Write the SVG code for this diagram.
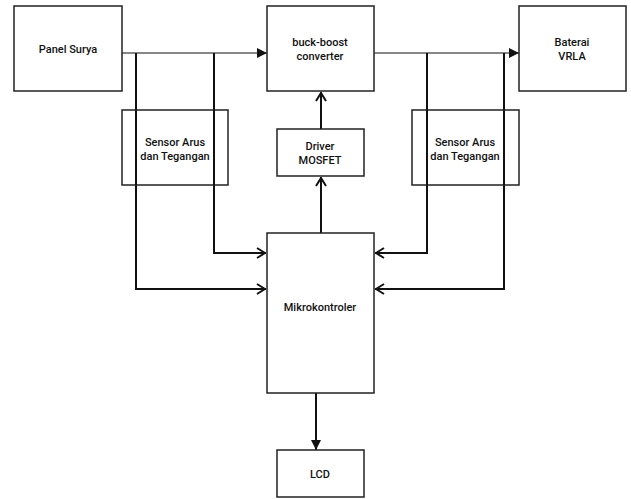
<svg xmlns="http://www.w3.org/2000/svg" width="631" height="499" viewBox="0 0 631 499">
<style>
.box{fill:#fff;stroke:#222;stroke-width:1.5}
.t{font-family:Roboto,"Liberation Sans",sans-serif;font-size:11px;font-weight:500;fill:#111;text-anchor:middle}
.thin{fill:none;stroke:#111;stroke-width:1.2}
.thick{fill:none;stroke:#111;stroke-width:2}
</style>
<defs>
<marker id="fa" viewBox="0 0 10 10" refX="10" refY="5" markerWidth="10" markerHeight="10" markerUnits="userSpaceOnUse" orient="auto"><path d="M0,0 L10,5 L0,10 Z" fill="#111"/></marker>
<marker id="oa" viewBox="0 0 10 12" refX="10" refY="6" markerWidth="10" markerHeight="12" markerUnits="userSpaceOnUse" orient="auto"><path d="M1,1 L9,6 L1,11" fill="none" stroke="#111" stroke-width="2"/></marker>
</defs>
<rect width="631" height="499" fill="#fff"/>
<g id="connectors">
<path class="thin" d="M122,53 H267" marker-end="url(#fa)"/>
<path class="thin" d="M374,53 H519" marker-end="url(#fa)"/>
<path class="thick" d="M136,53 V289 H266" marker-end="url(#oa)"/>
<path class="thick" d="M214,53 V253 H266" marker-end="url(#oa)"/>
<path class="thick" d="M427,53 V253 H375" marker-end="url(#oa)"/>
<path class="thick" d="M504,53 V289 H375" marker-end="url(#oa)"/>
<path class="thick" d="M321,129 V92" marker-end="url(#oa)"/>
<path class="thick" d="M321,233 V177" marker-end="url(#oa)"/>
<path class="thick" d="M316,393 V450" marker-end="url(#fa)"/>
</g>
<g id="panel"><rect class="box" x="14" y="6" width="108" height="85"/><text class="t" x="68" y="53">Panel Surya</text></g>
<g id="buckboost"><rect class="box" x="267" y="6" width="107" height="85"/><text class="t" x="320" y="46">buck-boost</text><text class="t" x="320" y="60">converter</text></g>
<g id="baterai"><rect class="box" x="519" y="6" width="107" height="85"/><text class="t" x="572" y="46">Baterai</text><text class="t" x="572" y="60">VRLA</text></g>
<g id="sensor1"><rect class="box" x="122" y="110" width="106" height="75" fill-opacity="0"/><text class="t" x="175" y="146">Sensor Arus</text><text class="t" x="175" y="160">dan Tegangan</text></g>
<g id="sensor2"><rect class="box" x="412" y="110" width="107" height="75" fill-opacity="0"/><text class="t" x="465" y="146">Sensor Arus</text><text class="t" x="465" y="160">dan Tegangan</text></g>
<g id="driver"><rect class="box" x="277" y="129" width="87" height="47"/><text class="t" x="320" y="150">Driver</text><text class="t" x="320" y="164">MOSFET</text></g>
<g id="mikro"><rect class="box" x="267" y="233" width="107" height="160"/><text class="t" x="320" y="311">Mikrokontroler</text></g>
<g id="lcd"><rect class="box" x="277" y="450" width="87" height="47"/><text class="t" x="320" y="478" font-weight="700">LCD</text></g>
<path class="thick" d="M136,110 V185 M214,110 V185 M427,110 V185 M504,110 V185"/>
</svg>
